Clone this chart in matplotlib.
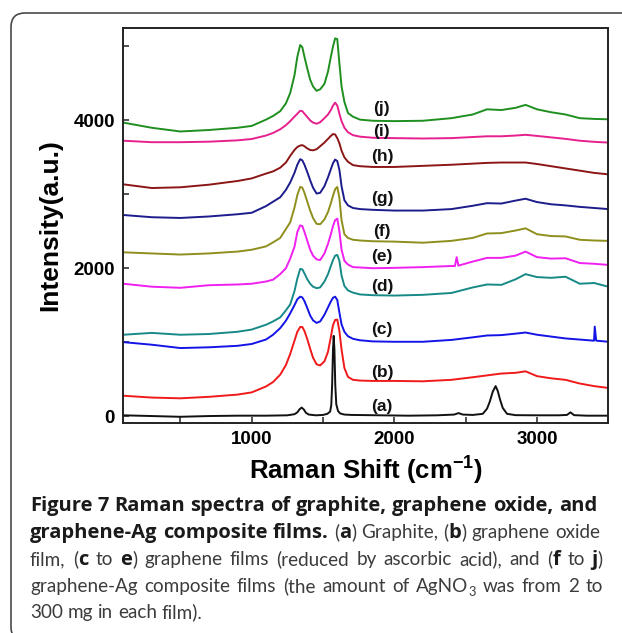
# Espectros Raman (grafito, GO, grafeno y grafeno-Ag) con el pie de figura

import numpy as np
import matplotlib.pyplot as plt
from matplotlib.patches import FancyBboxPatch
from matplotlib.transforms import IdentityTransform

plt.rcParams['font.family'] = ['Liberation Sans', 'DejaVu Sans']
plt.rcParams['mathtext.fontset'] = 'custom'
plt.rcParams['mathtext.rm'] = 'Liberation Sans:bold'
plt.rcParams['mathtext.bf'] = 'Liberation Sans:bold'
plt.rcParams['mathtext.default'] = 'bf'

# Datos (Raman shift en cm-1, intensidad en u.a. con offset)
X_COMMON = [100, 300, 500, 700, 900, 1000, 1100, 1150, 1200, 1240,
            1270, 1300, 1320, 1340, 1355, 1370, 1390, 1410, 1430, 1455,
            1480, 1510, 1535, 1555, 1570, 1585, 1600, 1615, 1630, 1650,
            1675, 1710, 1760, 1850, 2000, 2200, 2400, 2550, 2650, 2750,
            2850, 2920, 3000, 3100, 3200, 3300, 3400, 3500]

# (a) grafito, con su propia grilla (picos muy finos)
X_A = [100, 300, 500, 700, 900, 1100, 1250, 1300, 1320, 1335,
       1350, 1365, 1380, 1400, 1450, 1500, 1530, 1550, 1558, 1564,
       1570, 1575, 1580, 1586, 1593, 1605, 1620, 1650, 1700, 1900,
       2100, 2300, 2420, 2450, 2480, 2550, 2620, 2650, 2670, 2690,
       2710, 2725, 2740, 2760, 2790, 2850, 3000, 3150, 3210, 3235,
       3260, 3350, 3500]
INT_A = [10, 0, -10, 0, 5, 5, 10, 25, 50, 90,
         115, 90, 45, 20, 10, 15, 30, 60, 150, 420,
         900, 1085, 900, 420, 160, 70, 35, 20, 15, 10,
         5, 10, 20, 40, 20, 15, 30, 100, 200, 330,
         405, 340, 230, 110, 30, 12, 10, 10, 15, 50,
         12, 5, 5]

INT_B = [275, 250, 240, 260, 290, 320, 400, 460, 560, 690,
         840, 1020, 1140, 1205, 1205, 1150, 1040, 910, 790, 700,
         685, 740, 870, 1070, 1230, 1300, 1305, 1150, 900, 650,
         530, 490, 480, 475, 475, 470, 490, 525, 550, 575,
         585, 605, 540, 510, 490, 440, 405, 380]
INT_C = [1000, 965, 920, 930, 950, 975, 1035, 1100, 1190, 1290,
         1390, 1500, 1580, 1615, 1605, 1555, 1460, 1360, 1295, 1260,
         1280, 1370, 1470, 1550, 1600, 1615, 1570, 1400, 1240, 1140,
         1080, 1045, 1025, 1010, 1005, 1005, 1030, 1065, 1090, 1095,
         1115, 1130, 1100, 1075, 1050, 1035, 1020, 1005]
INT_D = [1100, 1125, 1100, 1110, 1140, 1170, 1235, 1280, 1335, 1430,
         1510, 1690, 1860, 1990, 1985, 1930, 1850, 1790, 1750, 1730,
         1740, 1820, 1920, 2030, 2110, 2170, 2180, 2100, 1900, 1760,
         1700, 1670, 1645, 1635, 1630, 1640, 1665, 1740, 1780, 1775,
         1850, 1920, 1880, 1870, 1885, 1790, 1800, 1750]
INT_E = [1790, 1750, 1735, 1770, 1780, 1790, 1820, 1845, 1920, 2000,
         2130, 2290, 2490, 2580, 2570, 2490, 2370, 2250, 2170, 2120,
         2110, 2200, 2330, 2460, 2570, 2650, 2670, 2500, 2250, 2100,
         2050, 2015, 2010, 2000, 2005, 2015, 2030, 2090, 2140, 2140,
         2170, 2225, 2150, 2130, 2135, 2070, 2060, 2045]
INT_F = [2215, 2200, 2185, 2200, 2225, 2250, 2295, 2350, 2410, 2530,
         2620, 2820, 2990, 3100, 3090, 3020, 2900, 2780, 2680, 2600,
         2595, 2660, 2760, 2880, 2980, 3070, 3100, 2950, 2650, 2460,
         2410, 2385, 2375, 2365, 2360, 2345, 2370, 2410, 2470, 2475,
         2510, 2540, 2460, 2435, 2430, 2385, 2375, 2370]
INT_G = [2720, 2690, 2680, 2700, 2730, 2750, 2840, 2900, 2960, 3060,
         3160, 3290, 3400, 3475, 3460, 3400, 3300, 3190, 3090, 3010,
         3020, 3110, 3230, 3340, 3420, 3470, 3450, 3330, 3110, 2920,
         2850, 2815, 2800, 2790, 2780, 2780, 2800, 2845, 2880, 2875,
         2915, 2940, 2895, 2865, 2850, 2830, 2815, 2800]
INT_H = [3135, 3085, 3095, 3130, 3180, 3215, 3280, 3310, 3360, 3430,
         3520, 3600, 3640, 3660, 3665, 3650, 3620, 3600, 3595, 3610,
         3650, 3700, 3750, 3790, 3815, 3810, 3760, 3690, 3590, 3500,
         3440, 3395, 3380, 3370, 3370, 3385, 3400, 3415, 3425, 3430,
         3430, 3430, 3410, 3380, 3350, 3320, 3290, 3270]
INT_I = [3725, 3705, 3705, 3712, 3730, 3748, 3795, 3830, 3880, 3935,
         3990, 4050, 4090, 4130, 4125, 4090, 4045, 4000, 3970, 3955,
         3975, 4030, 4080, 4140, 4200, 4240, 4200, 4090, 3990, 3900,
         3840, 3800, 3780, 3765, 3760, 3755, 3760, 3775, 3785, 3785,
         3795, 3805, 3790, 3770, 3750, 3725, 3710, 3700]
INT_J = [3970, 3900, 3850, 3870, 3900, 3925, 4010, 4060, 4125, 4230,
         4370, 4610, 4860, 5020, 4990, 4860, 4700, 4550, 4460, 4400,
         4420, 4495, 4660, 4860, 5000, 5110, 5100, 4770, 4460, 4250,
         4100, 4050, 4010, 3995, 3990, 3995, 4030, 4080, 4150, 4140,
         4170, 4210, 4150, 4110, 4080, 4030, 4020, 4015]

# Picos angostos sueltos (c y e)
SPIKE_C_X = [3395, 3405, 3415]
SPIKE_C_Y = [1020, 1210, 1020]
SPIKE_E_X = [2425, 2437, 2449]
SPIKE_E_Y = [2030, 2150, 2035]

LABELS = ['(a)', '(b)', '(c)', '(d)', '(e)', '(f)', '(g)', '(h)', '(i)', '(j)']
LABEL_Y = [128, 584, 1166, 1747, 2153, 2492, 2938, 3510, 3845, 4156]
LABEL_X = 1913

colores = ['#111111', '#f01a1a', '#1414e6', '#178a87', '#f020f0',
           '#8f8f1e', '#1c1c8c', '#8b1616', '#e6208c', '#1f8f1f']

def con_spike(x, y, sx, sy):
    # junta la curva con los puntos del pico angosto, ordenado en x
    xx = np.concatenate([x, sx])
    yy = np.concatenate([y, sy])
    orden = np.argsort(xx, kind='stable')
    return xx[orden], yy[orden]

curvas = [(X_A, INT_A), (X_COMMON, INT_B),
          con_spike(X_COMMON, INT_C, SPIKE_C_X, SPIKE_C_Y),
          (X_COMMON, INT_D),
          con_spike(X_COMMON, INT_E, SPIKE_E_X, SPIKE_E_Y),
          (X_COMMON, INT_F), (X_COMMON, INT_G), (X_COMMON, INT_H),
          (X_COMMON, INT_I), (X_COMMON, INT_J)]

W, H = 622, 633
fig = plt.figure(figsize=(W/100, H/100), dpi=100)
ax = fig.add_axes([123.3/W, 1 - 422.7/H, 485.0/W, 394.7/H])

for (x, y), c in zip(curvas, colores):
    ax.plot(x, y, color=c, lw=1.4)

for lab, ly in zip(LABELS, LABEL_Y):
    ax.text(LABEL_X, ly, lab, fontsize=12.5, fontweight='bold',
            ha='center', va='center', color='#111111')

ax.set_xlim(100, 3500)
ax.set_ylim(-90, 5250)
ax.set_xticks([500, 1000, 1500, 2000, 2500, 3000])
ax.set_xticklabels(['', '1000', '', '2000', '', '3000'])
ax.set_yticks([0, 1000, 2000, 3000, 4000, 5000])
ax.set_yticklabels(['0', '', '2000', '', '4000', ''])
ax.tick_params(direction='in', length=4, width=1.1, labelsize=13.5, color='#222222')
ax.tick_params(axis='x', pad=6)
ax.tick_params(axis='y', pad=6)
for lbl in ax.get_xticklabels() + ax.get_yticklabels():
    lbl.set_fontweight('bold')
for sp in ax.spines.values():
    sp.set_linewidth(1.4)
    sp.set_color('#222222')

fig.text(50/W, 1 - 225/H, 'Intensity(a.u.)', rotation=90, fontsize=19,
         fontweight='bold', ha='center', va='center')
fig.text(365.8/W, 1 - 471/H, r'Raman Shift (cm$^{-1}$)', fontsize=18.5,
         fontweight='bold', ha='center', va='center')

# Marco redondeado (en pixeles)
marco = FancyBboxPatch((11, -8), 700, 628, boxstyle='round,pad=0,rounding_size=14',
                       transform=IdentityTransform(), fill=False,
                       edgecolor='#4a4a4a', lw=1.2)
fig.add_artist(marco)

# Pie de figura con partes en negrita (lineas 1-4 justificadas)
CAPTION = [
    [('Figure 7 Raman spectra of graphite, graphene oxide, and', 'b')],
    [('graphene-Ag composite films.', 'b'), (' (', 'r'), ('a', 'b'),
     (') Graphite, (', 'r'), ('b', 'b'), (') graphene oxide', 'r')],
    [('film, (', 'r'), ('c', 'b'), (' to ', 'r'), ('e', 'b'),
     (') graphene films (reduced by ascorbic acid), and (', 'r'),
     ('f', 'b'), (' to ', 'r'), ('j', 'b'), (')', 'r')],
    [('graphene-Ag composite films (the amount of AgNO', 'r'), ('3', 's'),
     (' was from 2 to', 'r')],
    [('300 mg in each film).', 'r')],
]
BASELINES = [511, 538, 565, 592, 618]
RIGHT_EDGE = [597, 600, 603, 603, None]
X0 = 30.0

renderer = fig.canvas.get_renderer()

def estilo(tipo, tb, tr):
    if tipo == 'b':
        return dict(family='Open Sans', fontweight='bold', fontsize=tb, color='#1a1a1a')
    if tipo == 's':
        return dict(family='Lato', fontweight='normal', fontsize=tr*0.68, color='#3c3c3c')
    return dict(family='Lato', fontweight='normal', fontsize=tr, color='#3c3c3c')

def ancho(s, kw):
    if s == '':
        return 0.0
    t = fig.text(0, 0, '|' + s + '|', **kw)
    w1 = t.get_window_extent(renderer).width
    t.set_text('||')
    w2 = t.get_window_extent(renderer).width
    t.remove()
    return w1 - w2

def ancho_partes(linea, tipos, tb, tr):
    return sum(ancho(txt, estilo(tipo, tb, tr)) for txt, tipo in linea if tipo in tipos)

# negrita: la primera linea ocupa su ancho natural
t_b = 10 * (RIGHT_EDGE[0] - X0) / ancho_partes(CAPTION[0], 'b', 10, 10)
# normal: el mayor que deja entrar las lineas 2-4
t_r = min(10 * (r - X0 - ancho_partes(l, 'b', t_b, 10)) / ancho_partes(l, 'rs', t_b, 10)
          for l, r in zip(CAPTION[1:4], RIGHT_EDGE[1:4]))
t_r = min(t_r * 0.99, t_b * 1.1)

for linea, yb, r in zip(CAPTION, BASELINES, RIGHT_EDGE):
    nat = ancho_partes(linea, 'brs', t_b, t_r)
    n_esp = sum(txt.count(' ') for txt, _ in linea)
    extra = (r - X0 - nat) / n_esp if (r is not None and n_esp) else 0.0
    x = X0
    for txt, tipo in linea:
        kw = estilo(tipo, t_b, t_r)
        dy = -4 if tipo == 's' else 0
        esp = ancho(' ', kw)
        palabras = txt.split(' ')
        for k, p in enumerate(palabras):
            if k > 0:
                x += esp + extra
            if p:
                fig.text(x/W, 1 - (yb - dy)/H, p, ha='left', va='baseline', **kw)
                x += ancho(p, kw)

fig.savefig('out.png', dpi=100)
